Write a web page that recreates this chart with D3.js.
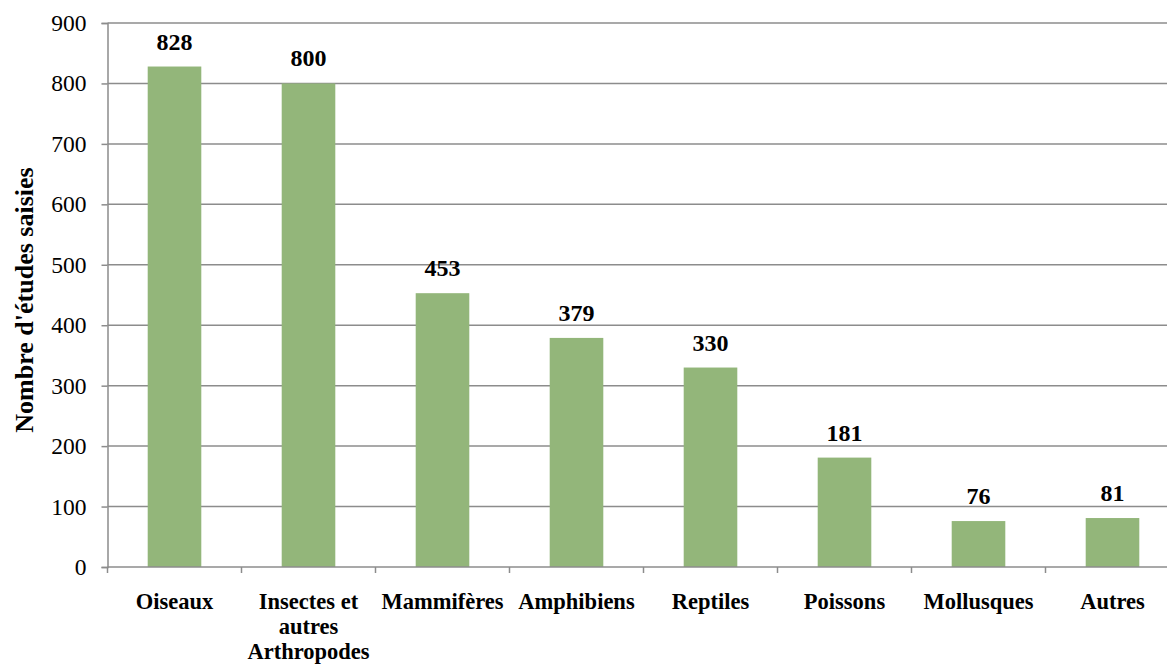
<!DOCTYPE html>
<html>
<head>
<meta charset="utf-8">
<script src="https://cdn.jsdelivr.net/npm/d3@7"></script>
<style>
  body { margin: 0; background: #fff; }
</style>
</head>
<body>
<svg id="chart" width="1167" height="666"></svg>
<script>
// values
var categories = ["Oiseaux", "Insectes et autres Arthropodes", "Mammifères", "Amphibiens",
                  "Reptiles", "Poissons", "Mollusques", "Autres"];
var counts = [828, 800, 453, 379, 330, 181, 76, 81];
var y_ticks = [0, 100, 200, 300, 400, 500, 600, 700, 800, 900];
var y_title = "Nombre d'études saisies";

var serif = "'Liberation Serif', 'Times New Roman', serif";
var svg = d3.select("#chart").style("font-family", serif);
var left = 107.5, top_y = 23, bottom_y = 567, band_w = 134;

var x = d3.scaleBand()
    .domain(categories)
    .range([left, left + band_w * categories.length])
    .paddingInner(0.6)
    .paddingOuter(0.3);

var y = d3.scaleLinear().domain([0, 900]).range([bottom_y, top_y]);

// gridlines
svg.selectAll("line.grid")
    .data(y_ticks.filter(d => d > 0))
    .enter()
    .append("line")
    .attr("class", "grid")
    .attr("x1", left)
    .attr("x2", left + band_w * categories.length)
    .attr("y1", d => y(d))
    .attr("y2", d => y(d))
    .style("stroke", "#8c8c8c")
    .style("stroke-width", 1.5);

// y axis
var yAxis = svg.append("g")
    .attr("transform", "translate(" + left + ",0)")
    .call(d3.axisLeft(y).tickValues(y_ticks).tickSize(6).tickPadding(15));
yAxis.attr("font-family", null).attr("font-size", null);
yAxis.select(".domain").style("stroke", "#8c8c8c").style("stroke-width", 1.5);
yAxis.selectAll(".tick line").style("stroke", "#8c8c8c").style("stroke-width", 1.5);
yAxis.selectAll(".tick text")
    .style("font-family", serif)
    .style("font-size", "23.5px")
    .style("fill", "#000");

// bars
svg.selectAll("rect.bar")
    .data(counts)
    .enter()
    .append("rect")
    .attr("class", "bar")
    .attr("x", (d, i) => x(categories[i]))
    .attr("width", x.bandwidth())
    .attr("y", d => y(d))
    .attr("height", d => bottom_y - y(d))
    .style("fill", "#93b67a");

// x axis line and ticks at band edges
svg.append("line")
    .attr("x1", left)
    .attr("x2", left + band_w * categories.length)
    .attr("y1", bottom_y)
    .attr("y2", bottom_y)
    .style("stroke", "#8c8c8c")
    .style("stroke-width", 1.5);

svg.selectAll("line.xtick")
    .data(d3.range(categories.length + 1))
    .enter()
    .append("line")
    .attr("class", "xtick")
    .attr("x1", i => left + i * band_w)
    .attr("x2", i => left + i * band_w)
    .attr("y1", bottom_y)
    .attr("y2", bottom_y + 6)
    .style("stroke", "#8c8c8c")
    .style("stroke-width", 1.5);

// value labels
svg.selectAll("text.value")
    .data(counts)
    .enter()
    .append("text")
    .attr("class", "value")
    .attr("x", (d, i) => x(categories[i]) + x.bandwidth() / 2)
    .attr("y", d => y(d) - 17)
    .attr("text-anchor", "middle")
    .style("font-family", serif)
    .style("font-size", "24px")
    .style("font-weight", "bold")
    .text(d => d);

// category labels, wrapped to the band width
var labels = svg.selectAll("text.cat")
    .data(categories)
    .enter()
    .append("text")
    .attr("class", "cat")
    .attr("x", d => x(d) + x.bandwidth() / 2)
    .attr("y", 609)
    .attr("text-anchor", "middle")
    .style("font-family", serif)
    .style("font-size", "22.5px")
    .style("font-weight", "bold");

labels.each(function(d) {
    var el = d3.select(this);
    var cx = el.attr("x");
    var words = d.split(" ");
    var line = [];
    var tspan = el.append("tspan").attr("x", cx).attr("dy", 0);
    words.forEach(w => {
        line.push(w);
        tspan.text(line.join(" "));
        if (tspan.node().getComputedTextLength() > band_w - 4 && line.length > 1) {
            line.pop();
            tspan.text(line.join(" "));
            line = [w];
            tspan = el.append("tspan").attr("x", cx).attr("dy", 25).text(w);
        }
    });
});

// y title
svg.append("text")
    .attr("transform", "translate(33,300) rotate(-90)")
    .attr("text-anchor", "middle")
    .style("font-family", serif)
    .style("font-size", "26px")
    .style("font-weight", "bold")
    .text(y_title);
</script>
</body>
</html>
